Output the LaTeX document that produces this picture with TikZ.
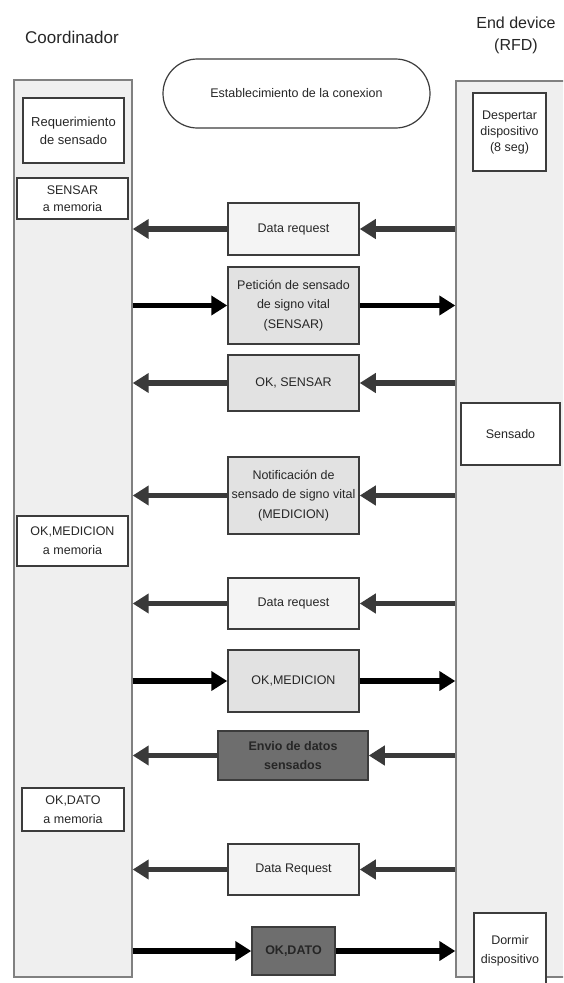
\documentclass[tikz,border=0pt]{standalone}
\usepackage{fontspec}
\setmainfont{Liberation Sans}
\usetikzlibrary{arrows.meta}

\definecolor{lanefill}{HTML}{EFEFEF}
\definecolor{laneline}{HTML}{808080}
\definecolor{boxline}{HTML}{3C3C3C}
\definecolor{msglight}{HTML}{F4F4F4}
\definecolor{msgmid}{HTML}{E2E2E2}
\definecolor{msgdark}{HTML}{6E6E6E}
\definecolor{txt}{HTML}{262626}
\definecolor{backarrow}{HTML}{3A3A3A}

\begin{document}
\begin{tikzpicture}[x=1pt, y=-1pt,
  lane/.style={draw=laneline, fill=lanefill, line width=1.4pt, rectangle, inner sep=0pt},
  title/.style={align=center, text=txt, inner sep=0pt, font=\fontsize{16}{22}\selectfont},
  note/.style={draw=boxline, fill=white, line width=1.2pt, inner sep=0pt, align=center,
               text=txt, font=\fontsize{12.5}{18}\selectfont},
  msg/.style={draw=boxline, line width=1.5pt, inner sep=0pt, align=center, text=txt,
              minimum width=131pt, font=\fontsize{12.5}{19.5}\selectfont},
  msglt/.style={msg, fill=msglight},
  msgmd/.style={msg, fill=msgmid},
  msgdk/.style={msg, fill=msgdark, text=black!85, font=\bfseries\fontsize{12.5}{19.5}\selectfont},
  back/.style={line width=5.5pt, draw=backarrow, -{Triangle[length=16pt, width=19pt]}},
  fwd/.style={line width=5.5pt, draw=black, -{Triangle[length=16pt, width=19pt]}}
]
\useasboundingbox (0,0) rectangle (563,983);
\fill[white] (0,0) rectangle (563,983);
\clip (0,0) rectangle (563,983);

% lifelines of the two devices
\node[lane, minimum width=118pt, minimum height=897pt] (coord) at (73,528.5) {};
\node[lane, minimum width=120pt, minimum height=896pt] (dev) at (516,529) {};

% headings
\node[title, font=\fontsize{17}{22}\selectfont] (tcoord) at (72,37) {Coordinador};
\node[title] (tdev) at (516,35) {End device\\(RFD)};

% connection setup
\node[draw=boxline, fill=white, line width=1.2pt, rounded corners=34.5pt,
      minimum width=267pt, minimum height=69pt, text=txt,
      font=\fontsize{12.5}{18}\selectfont] (setup) at (296.5,93.5) {Establecimiento de la conexion};

% coordinator side notes
\node[note, minimum width=101pt, minimum height=65pt, font=\fontsize{13}{18}\selectfont] (req) at (73.5,130.5) {Requerimiento\\de sensado};
\node[note, minimum width=111pt, minimum height=41pt, font=\fontsize{12.5}{17}\selectfont] (memsensar) at (72.5,198.5) {SENSAR\\a memoria};
\node[note, minimum width=111pt, minimum height=50pt, font=\fontsize{12.5}{19}\selectfont] (memmed) at (72.5,541) {OK,MEDICION\\a memoria};
\node[note, minimum width=102pt, minimum height=43pt, font=\fontsize{12.5}{19}\selectfont] (memdato) at (73,809.5) {OK,DATO\\a memoria};

% end device side notes
\node[note, minimum width=73pt, minimum height=78pt, font=\fontsize{12.5}{16}\selectfont] (wake) at (509.5,132) {Despertar\\dispositivo\\(8 seg)};
\node[note, minimum width=99pt, minimum height=62pt] (sense) at (510.5,434) {Sensado};
\node[note, minimum width=72pt, minimum height=76pt, font=\fontsize{12.5}{19}\selectfont] (sleep) at (510,951) {Dormir\\dispositivo};

% messages
\node[msglt, minimum height=52pt] (dr1) at (293.5,229) {Data request};
\node[msgmd, minimum height=77pt] (pet) at (293.5,305.5) {Petición de sensado\\de signo vital\\(SENSAR)};
\node[msgmd, minimum height=56pt] (oks) at (293.5,383) {OK, SENSAR};
\node[msgmd, minimum height=77pt] (notif) at (293.5,495.5) {Notificación de\\sensado de signo vital\\(MEDICION)};
\node[msglt, minimum height=51pt] (dr2) at (293.5,603.5) {Data request};
\node[msgmd, minimum height=62pt] (okmed) at (293.5,681) {OK,MEDICION};
\node[msgdk, minimum width=150pt, minimum height=49pt] (envio) at (293,755.5) {Envio de datos\\sensados};
\node[msglt, minimum height=51pt] (dr3) at (293.5,869.5) {Data Request};
\node[msgdk, minimum width=83pt, minimum height=48pt] (okdato) at (293.5,951) {OK,DATO};

% end device -> coordinator
\foreach \m in {dr1, oks, notif, dr2, envio, dr3} {
  \draw[back] (\m.west) -- (\m.west -| coord.east);
  \draw[back] (\m.east -| dev.west) -- (\m.east);
}
% coordinator -> end device
\foreach \m in {pet, okmed, okdato} {
  \draw[fwd] (\m.west -| coord.east) -- (\m.west);
  \draw[fwd] (\m.east) -- (\m.east -| dev.west);
}
\end{tikzpicture}
\end{document}
